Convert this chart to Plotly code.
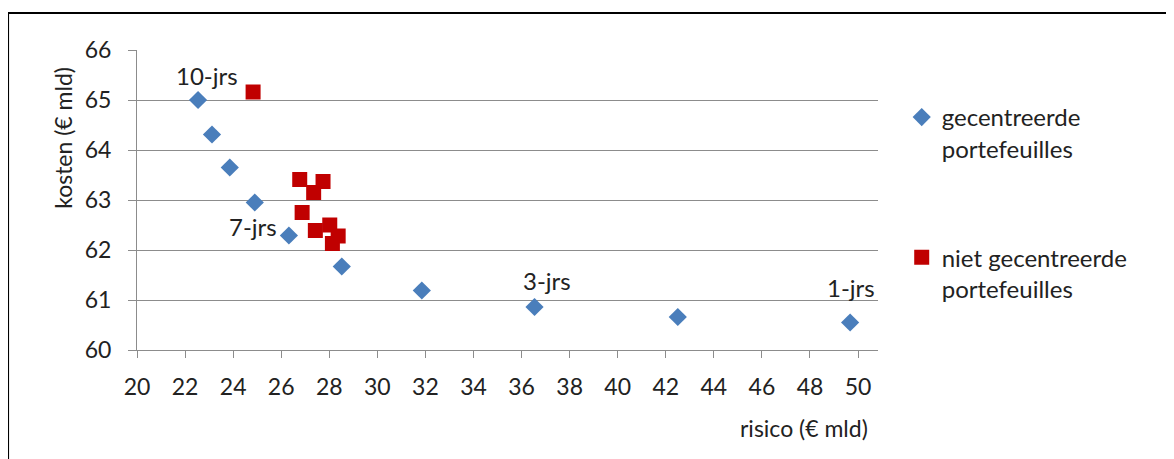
import plotly.graph_objects as go

# Data
risico_gecentreerd = [22.54, 23.12, 23.86, 24.90, 26.32, 28.52, 31.85, 36.54, 42.50, 49.67]
kosten_gecentreerd = [65.00, 64.31, 63.65, 62.95, 62.29, 61.67, 61.19, 60.86, 60.66, 60.55]

risico_niet = [24.83, 26.77, 27.74, 27.35, 26.87, 27.42, 28.02, 28.37, 28.13]
kosten_niet = [65.16, 63.41, 63.37, 63.15, 62.75, 62.39, 62.50, 62.28, 62.13]

# labelled points: (index in gecentreerd series, text, xshift, yshift, xanchor)
labels = [(0, "10-jrs", 9, 25, "center"),
          (4, "7-jrs", -10, 9, "right"),
          (7, "3-jrs", 12, 27, "center"),
          (9, "1-jrs", 1, 35, "center")]

x_ticks = list(range(20, 51, 2))
y_ticks = list(range(60, 67, 1))

FONT = "Lato"
TXT = "#222222"
GRID = "#8c8c8c"

fig = go.Figure()
fig.add_trace(go.Scatter(
    x=risico_gecentreerd, y=kosten_gecentreerd, mode="markers",
    name="gecentreerde<br>portefeuilles",
    marker=dict(symbol="diamond", size=14, color="#4A7EBB", line=dict(width=0)),
    legend="legend",
))
fig.add_trace(go.Scatter(
    x=risico_niet, y=kosten_niet, mode="markers",
    name="niet gecentreerde<br>portefeuilles",
    marker=dict(symbol="square", size=15, color="#C00000", line=dict(width=0)),
    legend="legend2",
))

for idx, txt, dx, dy, xa in labels:
    fig.add_annotation(x=risico_gecentreerd[idx], y=kosten_gecentreerd[idx], text=txt,
                       showarrow=False, xshift=dx, yshift=dy, xanchor=xa, yanchor="middle",
                       font=dict(family=FONT, size=24, color=TXT))

# axis titles
fig.add_annotation(xref="paper", yref="paper", x=-0.0999, y=0.707, text="kosten (€ mld)",
                   textangle=-90, showarrow=False, xanchor="center", yanchor="middle",
                   font=dict(family=FONT, size=23, color=TXT))
fig.add_annotation(xref="paper", yref="paper", x=0.989, y=-0.26, text="risico (€ mld)",
                   showarrow=False, xanchor="right", yanchor="middle",
                   font=dict(family=FONT, size=23, color=TXT))

# outer frame
fig.add_shape(type="rect", xref="paper", yref="paper", x0=-0.174, x1=2, y0=-2, y1=1.1233,
              line=dict(color="black", width=2), fillcolor="rgba(0,0,0,0)", layer="below")

fig.update_layout(
    width=1174, height=459,
    margin=dict(l=129, r=304, t=42, b=117),
    paper_bgcolor="white", plot_bgcolor="white",
    font=dict(family=FONT, size=22, color=TXT),
    showlegend=True,
    legend=dict(x=1.032, y=0.85, xanchor="left", yanchor="top", valign="top",
                bgcolor="rgba(0,0,0,0)", borderwidth=0,
                font=dict(family=FONT, size=24, color=TXT)),
    legend2=dict(x=1.032, y=0.383, xanchor="left", yanchor="top", valign="top",
                 bgcolor="rgba(0,0,0,0)", borderwidth=0,
                 font=dict(family=FONT, size=24, color=TXT)),
    hovermode=False,
)
fig.update_xaxes(range=[20, 50.83], tickmode="array", tickvals=x_ticks,
                 ticktext=[str(v) for v in x_ticks],
                 showgrid=False, zeroline=False,
                 showline=True, linecolor=GRID, linewidth=1,
                 ticks="outside", ticklen=7, tickcolor=GRID, tickwidth=1,
                 ticklabelstandoff=9,
                 tickfont=dict(family=FONT, size=23, color=TXT))
fig.update_yaxes(range=[60, 66], tickmode="array", tickvals=y_ticks,
                 ticktext=[str(v) for v in y_ticks],
                 showgrid=True, gridcolor=GRID, gridwidth=1, zeroline=False,
                 showline=True, linecolor=GRID, linewidth=1,
                 ticks="outside", ticklen=8, tickcolor=GRID, tickwidth=1,
                 ticklabelstandoff=12,
                 tickfont=dict(family=FONT, size=23, color=TXT))

fig.write_html("out.html", config={"displayModeBar": False})
